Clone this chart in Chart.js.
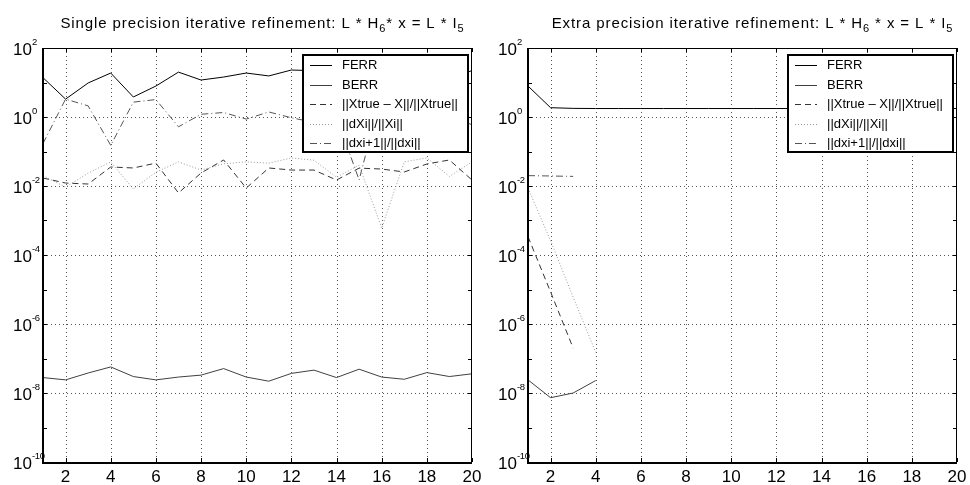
<!DOCTYPE html>
<html>
<head>
<meta charset="utf-8">
<script src="https://cdn.jsdelivr.net/npm/chart.js@4.4.1/dist/chart.umd.min.js"></script>
<style>
  body { margin: 0; background: #fff; }
  #wrap { position: relative; width: 970px; height: 485px; }
  .box { position: absolute; top: 0; width: 485px; height: 485px; }
</style>
</head>
<body>
<div id="wrap">
  <div class="box" style="left:0"><canvas id="c1" width="485" height="485"></canvas></div>
  <div class="box" style="left:485px"><canvas id="c2" width="485" height="485"></canvas></div>
</div>
<script>
const iters = [1, 2, 3, 4, 5, 6, 7, 8, 9, 10, 11, 12, 13, 14, 15, 16, 17, 18, 19, 20];
const xTicks = [2, 4, 6, 8, 10, 12, 14, 16, 18, 20];
const yDecades = [-10, -9, -8, -7, -6, -5, -4, -3, -2, -1, 0, 1, 2];
const yLabelExp = [-10, -8, -6, -4, -2, 0, 2];
const seriesNames = ["FERR", "BERR", "||Xtrue \u2013 X||/||Xtrue||", "||dXi||/||Xi||", "||dxi+1||/||dxi||"];

// single precision refinement
const spFerr  = [13.8, 3.3, 9.7, 18.8, 3.8, 7.9, 20, 11.8, 14.4, 18.8, 15.5, 23, 22, 20, 24, 21, 18, 22, 14, 22];
const spBerr  = [2.8e-8, 2.4e-8, 3.8e-8, 5.7e-8, 3.0e-8, 2.4e-8, 2.9e-8, 3.3e-8, 5.1e-8, 2.9e-8,
                 2.2e-8, 3.7e-8, 4.6e-8, 2.8e-8, 4.9e-8, 2.9e-8, 2.5e-8, 3.9e-8, 3.0e-8, 3.6e-8];
const spXerr  = [0.017, 0.0122, 0.0114, 0.0356, 0.0333, 0.046, 0.0063, 0.0238, 0.0568, 0.0087,
                 0.0333, 0.029, 0.029, 0.0149, 0.033, 0.031, 0.0255, 0.0434, 0.0568, 0.0149];
const spDx    = [0.02, 0.0093, 0.0235, 0.05, 0.0082, 0.025, 0.05, 0.029, 0.044, 0.05,
                 0.046, 0.065, 0.056, 0.018, 0.04, 0.0006, 0.05, 0.065, 0.019, 0.05];
const spRatio = [0.17, 3.3, 2.1, 0.15, 2.7, 3.2, 0.52, 1.2, 1.35, 0.87,
                 1.4, 0.95, 0.7, 1.0, 0.015, 5, 1.0, 0.8, 1.0, 0.6];

// extra precision refinement
const epFerr  = [7.9, 1.86, 1.78, 1.76, 1.76, 1.76, 1.76, 1.76, 1.76, 1.76,
                 1.76, 1.76, 1.76, 1.76, 1.76, 1.76, 1.76, 1.76, 1.76, 1.76];
const epBerr  = [2.4e-8, 7.3e-9, 1.0e-8, 2.3e-8];
const epXerr  = [3.4e-4, 8.5e-6, 2.0e-7];
const epDx    = [8.7e-3, 2.6e-4, 6e-6, 1.5e-7];
const epRatio = [0.020, 0.0195, 0.019];

const FONT = '"Liberation Sans", Arial, Helvetica, sans-serif';
const lineStyles = [
  { color: "#000", dash: [] },
  { color: "#404040", dash: [] },
  { color: "#333", dash: [6, 4] },
  { color: "#999", dash: [1, 2] },
  { color: "#555", dash: [7, 3, 1, 3] }
];

function pts(arr) {
  return arr.map((v, i) => ({ x: iters[i], y: v }));
}

function makeDecor(titleParts, titleShift) {
  return {
    id: "decor",
    beforeDatasetsDraw(chart) {
      const { ctx, chartArea: a, scales: { x, y } } = chart;
      ctx.save();
      ctx.strokeStyle = "#555";
      ctx.lineWidth = 1;
      ctx.setLineDash([1, 3]);
      ctx.beginPath();
      xTicks.forEach(v => {
        if (v >= 20) return;
        const px = Math.round(x.getPixelForValue(v)) + 0.5;
        ctx.moveTo(px, a.top); ctx.lineTo(px, a.bottom);
      });
      yLabelExp.forEach(e => {
        if (e <= -10 || e >= 2) return;
        const py = Math.round(y.getPixelForValue(Math.pow(10, e))) + 0.5;
        ctx.moveTo(a.left, py); ctx.lineTo(a.right, py);
      });
      ctx.stroke();
      ctx.restore();
    },
    afterDatasetsDraw(chart) {
      const { ctx, chartArea: a, scales: { x, y } } = chart;
      ctx.save();
      ctx.setLineDash([]);

      // legend box
      const lx = 303, ly = 55, lw = 165, lh = 97;
      ctx.fillStyle = "#fff";
      ctx.fillRect(lx, ly, lw, lh);
      ctx.strokeStyle = "#000";
      ctx.lineWidth = 2;
      ctx.strokeRect(lx, ly, lw, lh);
      ctx.font = "13px " + FONT;
      ctx.textBaseline = "middle";
      ctx.textAlign = "left";
      chart.data.datasets.forEach((ds, i) => {
        const yy = Math.round(65 + i * 19.5) + 0.5;
        ctx.strokeStyle = ds.borderColor;
        ctx.lineWidth = 1;
        ctx.setLineDash(ds.borderDash || []);
        ctx.beginPath();
        ctx.moveTo(310, yy); ctx.lineTo(332, yy);
        ctx.stroke();
        ctx.setLineDash([]);
        ctx.fillStyle = "#000";
        ctx.fillText(ds.label, 342, yy);
      });

      // axes box
      ctx.strokeStyle = "#000";
      ctx.lineWidth = 1;
      ctx.beginPath();
      ctx.moveTo(a.left, a.top + 0.5); ctx.lineTo(a.right, a.top + 0.5);
      ctx.moveTo(a.right - 0.5, a.top); ctx.lineTo(a.right - 0.5, a.bottom);
      ctx.stroke();
      ctx.lineWidth = 2;
      ctx.beginPath();
      ctx.moveTo(a.left, a.top); ctx.lineTo(a.left, a.bottom + 1);
      ctx.lineTo(a.right, a.bottom + 1);
      ctx.stroke();

      // inner tick marks
      ctx.lineWidth = 1;
      ctx.beginPath();
      yDecades.forEach(e => {
        const py = Math.round(y.getPixelForValue(Math.pow(10, e))) + 0.5;
        ctx.moveTo(a.left, py); ctx.lineTo(a.left + 4, py);
        ctx.moveTo(a.right, py); ctx.lineTo(a.right - 4, py);
      });
      xTicks.forEach(v => {
        const px = Math.round(x.getPixelForValue(v)) + 0.5;
        ctx.moveTo(px, a.bottom); ctx.lineTo(px, a.bottom - 4);
        ctx.moveTo(px, a.top); ctx.lineTo(px, a.top + 4);
      });
      ctx.stroke();

      // tick labels
      ctx.fillStyle = "#000";
      ctx.textBaseline = "alphabetic";
      ctx.font = "17px " + FONT;
      ctx.textAlign = "center";
      xTicks.forEach(v => {
        ctx.fillText(String(v), x.getPixelForValue(v), 482);
      });
      yLabelExp.forEach(e => {
        const py = y.getPixelForValue(Math.pow(10, e));
        ctx.letterSpacing = "0px";
        ctx.font = "17px " + FONT;
        ctx.textAlign = "right";
        ctx.fillText("10", 32, py + 6.5);
        ctx.letterSpacing = "-0.4px";
        ctx.font = "9.5px " + FONT;
        ctx.textAlign = "left";
        ctx.fillText(String(e), 32, py - 3);
      });

      // title with subscripts
      ctx.textAlign = "left";
      ctx.letterSpacing = "0.9px";
      let total = 0;
      titleParts.forEach(p => {
        ctx.font = (p.sub ? "11px " : "15px ") + FONT;
        total += ctx.measureText(p.t).width;
      });
      let tx = (a.left + a.right) / 2 + titleShift - total / 2;
      titleParts.forEach(p => {
        ctx.font = (p.sub ? "11px " : "15px ") + FONT;
        ctx.fillText(p.t, tx, p.sub ? 32 : 28);
        tx += ctx.measureText(p.t).width;
      });
      ctx.restore();
    }
  };
}

function makeChart(id, titleParts, titleShift, ferr, berr, xerr, dx, ratio) {
  const series = [ferr, berr, xerr, dx, ratio];
  new Chart(document.getElementById(id), {
    type: "line",
    data: {
      datasets: series.map((arr, i) => ({
        label: seriesNames[i],
        data: pts(arr),
        borderColor: lineStyles[i].color,
        borderDash: lineStyles[i].dash,
        borderWidth: 1,
        pointRadius: 0,
        tension: 0,
        fill: false
      }))
    },
    options: {
      responsive: false,
      animation: false,
      layout: { padding: { left: 43, right: 13, top: 48, bottom: 23 } },
      plugins: { legend: { display: false }, title: { display: false }, tooltip: { enabled: false } },
      scales: {
        x: { type: "linear", min: 1, max: 20, display: false },
        y: { type: "logarithmic", min: 1e-10, max: 1e2, display: false }
      }
    },
    plugins: [makeDecor(titleParts, titleShift)]
  });
}

makeChart("c1",
  [{ t: "Single precision iterative refinement: L * H" }, { t: "6", sub: true }, { t: "* x = L * I" }, { t: "5", sub: true }],
  5, spFerr, spBerr, spXerr, spDx, spRatio);

makeChart("c2",
  [{ t: "Extra precision iterative refinement: L * H" }, { t: "6", sub: true }, { t: " * x = L * I" }, { t: "5", sub: true }],
  10, epFerr, epBerr, epXerr, epDx, epRatio);
</script>
</body>
</html>
